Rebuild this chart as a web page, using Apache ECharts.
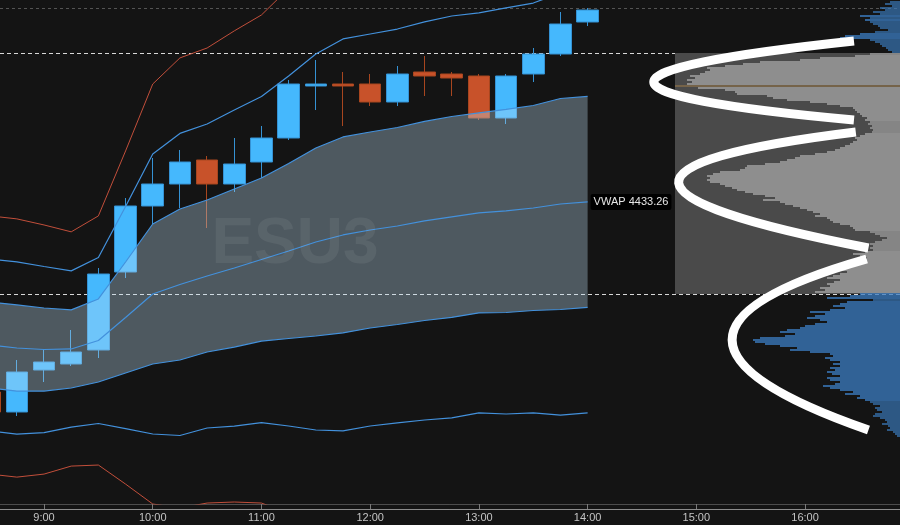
<!DOCTYPE html>
<html>
<head>
<meta charset="utf-8">
<script src="https://cdn.jsdelivr.net/npm/echarts@6/dist/echarts.min.js"></script>
<style>
html,body{margin:0;padding:0;background:#141414;}
#chart{width:900px;height:525px;}
</style>
</head>
<body>
<div id="chart"></div>
<script>
// ---------- data ----------
const times = ['8:30','8:45','9:00','9:15','9:30','9:45','10:00','10:15','10:30','10:45','11:00','11:15',
  '11:30','11:45','12:00','12:15','12:30','12:45','13:00','13:15','13:30','13:45','14:00'];
const opens  = [4409.5,4407.0,4412.25,4413.0,4414.75,4424.5,4432.75,4435.5,4438.5,4435.5,4438.25,4441.25,
  4447.75,4448.0,4448.0,4445.75,4449.5,4449.25,4449.0,4443.75,4449.25,4451.75,4455.75];
const closes = [4407.0,4412.0,4413.25,4414.5,4424.25,4432.75,4435.5,4438.25,4435.5,4438.0,4441.25,4448.0,
  4448.0,4447.75,4445.75,4449.25,4449.0,4448.75,4443.75,4449.0,4451.75,4455.5,4457.25];
const lows   = [4406.75,4406.5,4410.75,4412.75,4413.75,4423.75,4430.5,4432.5,4430.0,4434.5,4436.25,4441.0,
  4444.75,4442.75,4445.25,4445.25,4446.5,4446.5,4443.5,4443.0,4448.25,4451.5,4455.25];
const highs  = [4410.0,4413.5,4414.75,4417.25,4425.0,4433.75,4438.75,4439.75,4439.0,4441.25,4442.75,4448.5,
  4451.0,4449.5,4449.25,4450.25,4451.5,4449.5,4449.25,4449.25,4452.5,4457.0,4457.5];

const vwap   = [4415.38,4415.00,4414.81,4414.88,4415.94,4418.81,4421.75,4422.94,4424.00,4425.00,4426.06,4427.13,
  4428.25,4429.13,4429.75,4430.25,4430.88,4431.38,4431.88,4432.13,4432.50,4433.00,4433.26];
const upper1 = [4420.76,4420.38,4420.00,4419.76,4421.13,4425.75,4430.50,4432.38,4433.50,4434.88,4436.25,4438.07,
  4440.00,4441.38,4442.00,4442.56,4443.32,4443.94,4444.38,4444.82,4445.31,4446.19,4446.45];
const lower1 = [4410.00,4409.62,4409.62,4410.00,4410.75,4411.87,4413.00,4413.50,4414.50,4415.12,4415.87,4416.19,
  4416.50,4416.88,4417.50,4417.94,4418.44,4418.82,4419.38,4419.44,4419.69,4419.81,4420.07];
const upper2 = [4426.14,4425.76,4425.19,4424.64,4426.32,4432.69,4439.25,4441.82,4443.00,4444.76,4446.44,4449.01,
  4451.75,4453.63,4454.25,4454.87,4455.76,4456.50,4456.88,4457.51,4458.12,4459.38,4459.64];
const lower2 = [4404.62,4404.24,4404.43,4405.12,4405.56,4404.93,4404.25,4404.06,4405.00,4405.24,4405.68,4405.25,
  4404.75,4404.63,4405.25,4405.63,4406.00,4406.26,4406.88,4406.75,4406.88,4406.62,4406.88];
const upper3 = [4431.52,4431.14,4430.38,4429.52,4431.51,4439.63,4448.00,4451.26,4452.50,4454.64,4456.63,4459.95,
  4463.50,4465.88,4466.50,4467.18,4468.20,4469.06,4469.38,4470.20,4470.93,4472.57,4472.83];
const lower3 = [4399.24,4398.86,4399.24,4400.24,4400.37,4397.99,4395.50,4395.00,4395.62,4395.75,4395.62,4394.31,
  4393.00,4392.38,4393.00,4393.32,4393.56,4393.70,4394.38,4393.82,4394.07,4393.43,4393.69];

const tickLabels = ['9:00','10:00','11:00','12:00','13:00','14:00','15:00','16:00'];
const symbolName = 'ESU3';
const vwapLabel = 'VWAP';

// session levels
const highOfDay = 4457.5;
const valueAreaHigh = 4451.875;
const pointOfControl = 4447.75;
const valueAreaLow = 4421.75;

// volume profile, one row per 0.25 tick starting at profileTopPrice going down
const profileTopPrice = 4458.25;
const profileTick = 0.25;
const profileVolume = [
  10,15,8,20,15,27,20,40,30,35,30,27,22,20,12,25,40,55,60,30,25,20,18,14,12,8,
  30,45,80,100,140,157,175,193,190,195,
  200,210,205,213,208,213,225,202,175,165,
  163,133,127,113,90,73,60,47,45,43,
  40,38,33,35,30,32,28,30,27,28,
  35,40,45,43,47,50,55,60,65,73,
  85,100,105,113,120,135,153,155,160,180,
  187,193,190,193,190,180,175,168,163,155,
  147,135,125,137,120,115,107,100,93,87,
  80,85,73,70,67,60,50,47,45,30,
  25,20,13,18,25,30,27,30,27,35,
  47,40,33,40,47,55,50,60,67,53,
  60,67,73,60,66,73,70,80,75,85,
  40,50,73,27,53,60,67,55,70,90,
  75,85,93,80,73,85,95,100,113,120,
  105,115,140,147,145,135,120,103,110,90,
  70,67,75,70,60,67,60,70,65,73,
  68,60,73,70,60,65,77,70,60,47,
  55,40,43,35,30,27,20,25,23,18,
  25,27,20,15,13,18,12,10,13,7,
  5,3
];
const profileMax = 225;

// annotation arcs: [start time, start price, control time, control price, end time, end price]
const arcs = [
  ['16:27',4453.38,'12:46',4448.06,'16:27',4443.50],
  ['16:28',4442.00,'13:09',4436.50,'16:35',4427.50],
  ['16:34',4426.13,'14:05',4416.56,'16:35',4404.75]
];

// ---------- helpers ----------
const toMin = s => { const p = s.split(':'); return (+p[0]) * 60 + (+p[1]); };
const xs = times.map(toMin);
const tickMins = tickLabels.map(toMin);
const seriesData = arr => xs.map((x, i) => [x, arr[i]]);

const candleData = xs.map((x, i) => [x, opens[i], closes[i], lows[i], highs[i]]);
const bandData = xs.map((x, i) => [x, upper1[i], lower1[i]]);
const profileData = profileVolume.map((v, i) => [v, profileTopPrice - profileTick * i]);
const arcData = arcs.map(a => [toMin(a[0]), a[1], toMin(a[2]), a[3], toMin(a[4]), a[5]]);

const X_MIN = 515.7, X_MAX = 1012.4;   // visible time window (minutes)
const Y_MIN = 4395.5, Y_MAX = 4458.5;  // visible price window
const BLUE_LINE = '#4391dc';
const RED_LINE = '#c24f3b';
const FONT = 'Liberation Sans, Arial, sans-serif';

const lineSeries = (name, arr, color, width) => ({
  name, type: 'line', data: seriesData(arr), symbol: 'none', z: 5,
  lineStyle: { color, width }, silent: true, clip: true
});

const chart = echarts.init(document.getElementById('chart'), null, { renderer: 'canvas' });

chart.setOption({
  backgroundColor: '#141414',
  animation: false,
  grid: [
    { left: 0, right: 0, top: 0, bottom: 21 },
    { left: 675, right: 0, top: 0, bottom: 21 }
  ],
  xAxis: [
    {
      type: 'value', gridIndex: 0, min: X_MIN, max: X_MAX,
      axisLine: { show: true, lineStyle: { color: '#4d4d4d', width: 1 } },
      axisTick: { show: true, length: 5, customValues: tickMins, lineStyle: { color: '#7a7a7a' } },
      axisLabel: {
        color: '#c4c4c4', fontSize: 11, margin: 8, fontFamily: FONT,
        customValues: tickMins,
        formatter: v => tickLabels[tickMins.indexOf(Math.round(v))] || ''
      },
      splitLine: { show: false }
    },
    {
      type: 'value', gridIndex: 1, min: 0, max: profileMax, inverse: true, show: false
    },
    {
      type: 'value', gridIndex: 0, min: X_MIN, max: X_MAX, position: 'bottom', offset: 5,
      axisLine: { show: true, lineStyle: { color: '#8c8c8c', width: 1 } },
      axisTick: { show: false }, axisLabel: { show: false }, splitLine: { show: false }
    }
  ],
  yAxis: [
    { type: 'value', gridIndex: 0, min: Y_MIN, max: Y_MAX, show: false, splitLine: { show: false } },
    { type: 'value', gridIndex: 1, min: Y_MIN, max: Y_MAX, show: false, splitLine: { show: false } }
  ],
  graphic: [{
    type: 'text', x: 295, y: 245, z: 20, silent: true,
    style: {
      text: symbolName, textAlign: 'center', textVerticalAlign: 'middle',
      font: 'bold 64px "Liberation Sans", Arial, sans-serif', fill: 'rgba(255,255,255,0.065)'
    }
  }],
  series: [
    // value area background in the profile
    {
      type: 'custom', xAxisIndex: 1, yAxisIndex: 1, z: 1, silent: true,
      data: [[profileMax, valueAreaHigh, valueAreaLow]],
      encode: { x: 0, y: [1, 2] },
      renderItem: (params, api) => {
        const a = api.coord([api.value(0), api.value(1)]);
        const b = api.coord([0, api.value(2)]);
        return { type: 'rect', shape: { x: a[0], y: a[1], width: b[0] - a[0], height: b[1] - a[1] },
          style: { fill: '#4a4a4a' } };
      }
    },
    // volume profile rows
    {
      type: 'custom', xAxisIndex: 1, yAxisIndex: 1, z: 3, silent: true, clip: true,
      data: profileData, encode: { x: 0, y: 1 },
      renderItem: (params, api) => {
        const v = api.value(0), p = api.value(1);
        const a = api.coord([v, p]);
        const b = api.coord([0, p]);
        const isPoc = Math.abs(p - pointOfControl) < 1e-6;
        const inVA = p < valueAreaHigh && p > valueAreaLow;
        const h = isPoc ? 1.2 : 1.3;
        const fill = isPoc ? '#a07c48' : (inVA ? '#a6a6a6' : '#3b7dc2');
        return { type: 'rect', shape: { x: a[0], y: a[1] - h / 2, width: b[0] - a[0], height: h },
          style: { fill } };
      }
    },
    // candles
    {
      name: symbolName, type: 'candlestick', data: candleData, encode: { x: 0, y: [1, 2, 3, 4] },
      barWidth: 22, z: 2, silent: true,
      itemStyle: {
        color: '#45b8fd', color0: '#c8522a',
        borderColor: '#3592d4', borderColor0: '#a8461f', borderWidth: 1
      },
      markLine: {
        silent: true, symbol: 'none', z: 1, animation: false,
        label: { show: false },
        data: [
          { yAxis: highOfDay, lineStyle: { color: '#545454', width: 1, type: [3, 3] } },
          { yAxis: valueAreaHigh, lineStyle: { color: '#d8d8d8', width: 1, type: [4, 3] } },
          { yAxis: valueAreaLow, lineStyle: { color: '#d8d8d8', width: 1, type: [4, 3] } }
        ]
      }
    },
    // 1 sd band fill (drawn over the candles)
    {
      name: 'band', type: 'custom', z: 3, silent: true, clip: true,
      data: bandData, encode: { x: 0, y: [1, 2] },
      renderItem: (params, api) => {
        if (params.dataIndex !== 0) return;
        const pts = [];
        for (let i = 0; i < xs.length; i++) pts.push(api.coord([xs[i], upper1[i]]));
        for (let i = xs.length - 1; i >= 0; i--) pts.push(api.coord([xs[i], lower1[i]]));
        return { type: 'polygon', shape: { points: pts }, style: { fill: 'rgba(190,222,242,0.34)' } };
      }
    },
    lineSeries('upper3', upper3, RED_LINE, 1),
    lineSeries('lower3', lower3, RED_LINE, 1),
    lineSeries('upper2', upper2, BLUE_LINE, 1.2),
    lineSeries('lower2', lower2, BLUE_LINE, 1.2),
    lineSeries('upper1', upper1, BLUE_LINE, 1.2),
    lineSeries('lower1', lower1, BLUE_LINE, 1.2),
    Object.assign(lineSeries('vwap', vwap, BLUE_LINE, 1.2), {
      endLabel: {
        show: true, distance: 3,
        formatter: () => vwapLabel + ' ' + vwap[vwap.length - 1].toFixed(2),
        color: '#e6e6e6', fontSize: 11, fontFamily: FONT,
        backgroundColor: '#000', padding: [3, 3, 2, 3], borderRadius: 2
      }
    }),
    // annotation arcs
    {
      type: 'custom', z: 10, silent: true, data: arcData,
      encode: { x: [0, 2, 4], y: [1, 3, 5] },
      renderItem: (params, api) => {
        const p0 = api.coord([api.value(0), api.value(1)]);
        const c = api.coord([api.value(2), api.value(3)]);
        const p2 = api.coord([api.value(4), api.value(5)]);
        return { type: 'bezierCurve',
          shape: { x1: p0[0], y1: p0[1], x2: p2[0], y2: p2[1], cpx1: c[0], cpy1: c[1] },
          style: { stroke: '#ffffff', lineWidth: 9, fill: 'none', lineCap: 'butt' } };
      }
    }
  ]
});
</script>
</body>
</html>
